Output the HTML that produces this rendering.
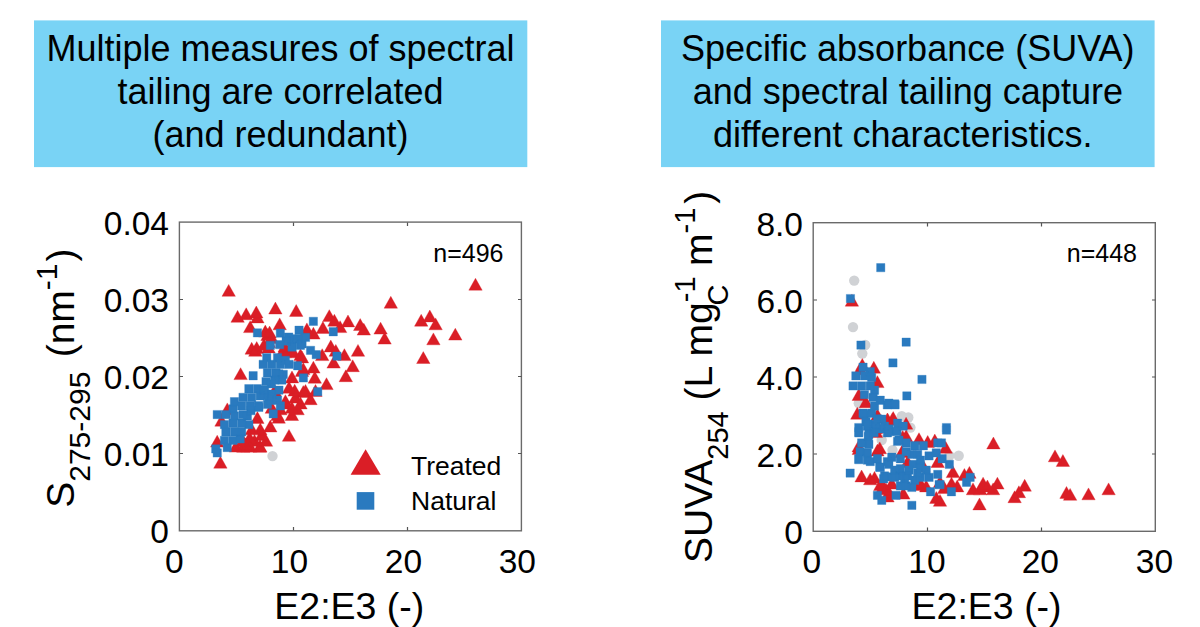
<!DOCTYPE html>
<html><head><meta charset="utf-8"><style>
html,body{margin:0;padding:0;background:#fff;width:1200px;height:627px;overflow:hidden}
svg{display:block}
text{font-family:"Liberation Sans",sans-serif;fill:#000}
</style></head><body>
<svg width="1200" height="627" viewBox="0 0 1200 627">
<rect x="0" y="0" width="1200" height="627" fill="#fff"/>
<!-- title boxes -->
<rect x="34" y="20.4" width="493.3" height="146.7" fill="#79D3F5"/>
<rect x="661" y="20.4" width="493.6" height="146.7" fill="#79D3F5"/>
<g font-size="36" text-anchor="middle">
<text x="280.5" y="60.5">Multiple measures of spectral</text>
<text x="280.5" y="103.5">tailing are correlated</text>
<text x="280.5" y="146.5">(and redundant)</text>
<text x="907.8" y="60.5">Specific absorbance (SUVA)</text>
<text x="907.8" y="103.5">and spectral tailing capture</text>
<text x="902.8" y="146.5">different characteristics.</text>
</g>

<!-- LEFT CHART -->
<g id="L">
<g fill="#D0D2D5"><circle cx="272.5" cy="456.1" r="5.2"/></g>
<path fill="#DA1E26" stroke="#DA1E26" stroke-width="0.35" stroke-linejoin="miter" d="M222.0 296.3h13.4l-6.7 -11.9zM230.9 322.3h13.4l-6.7 -11.9zM239.5 319.7h13.4l-6.7 -11.9zM249.6 317.9h13.4l-6.7 -11.9zM250.7 322.9h13.4l-6.7 -11.9zM268.7 314.0h13.4l-6.7 -11.9zM289.5 316.4h13.4l-6.7 -11.9zM243.5 332.6h13.4l-6.7 -11.9zM273.0 329.8h13.4l-6.7 -11.9zM258.6 337.0h13.4l-6.7 -11.9zM262.9 338.0h13.4l-6.7 -11.9zM300.2 334.8h13.4l-6.7 -11.9zM306.7 339.1h13.4l-6.7 -11.9zM245.0 354.2h13.4l-6.7 -11.9zM250.0 353.5h13.4l-6.7 -11.9zM257.2 350.6h13.4l-6.7 -11.9zM262.2 347.7h13.4l-6.7 -11.9zM278.0 357.8h13.4l-6.7 -11.9zM286.6 357.8h13.4l-6.7 -11.9zM293.8 360.6h13.4l-6.7 -11.9zM273.0 362.1h13.4l-6.7 -11.9zM265.1 343.4h13.4l-6.7 -11.9zM260.8 340.5h13.4l-6.7 -11.9zM278.0 352.0h13.4l-6.7 -11.9zM384.1 308.2h13.4l-6.7 -11.9zM322.6 321.6h13.4l-6.7 -11.9zM327.7 326.2h13.4l-6.7 -11.9zM341.3 326.9h13.4l-6.7 -11.9zM333.4 332.6h13.4l-6.7 -11.9zM353.5 330.5h13.4l-6.7 -11.9zM357.1 335.1h13.4l-6.7 -11.9zM373.9 334.1h13.4l-6.7 -11.9zM377.9 344.1h13.4l-6.7 -11.9zM414.5 326.2h13.4l-6.7 -11.9zM423.1 321.9h13.4l-6.7 -11.9zM428.9 329.8h13.4l-6.7 -11.9zM426.7 344.8h13.4l-6.7 -11.9zM324.1 352.0h13.4l-6.7 -11.9zM329.1 356.3h13.4l-6.7 -11.9zM351.3 356.3h13.4l-6.7 -11.9zM337.7 360.6h13.4l-6.7 -11.9zM315.5 360.6h13.4l-6.7 -11.9zM416.6 363.5h13.4l-6.7 -11.9zM316.2 333.4h13.4l-6.7 -11.9zM233.9 379.6h13.4l-6.7 -11.9zM296.6 374.6h13.4l-6.7 -11.9zM306.7 373.1h13.4l-6.7 -11.9zM308.1 383.2h13.4l-6.7 -11.9zM282.3 393.2h13.4l-6.7 -11.9zM288.0 396.1h13.4l-6.7 -11.9zM296.6 397.5h13.4l-6.7 -11.9zM303.8 404.7h13.4l-6.7 -11.9zM285.2 413.3h13.4l-6.7 -11.9zM290.9 414.8h13.4l-6.7 -11.9zM270.8 420.5h13.4l-6.7 -11.9zM250.7 423.4h13.4l-6.7 -11.9zM263.6 432.0h13.4l-6.7 -11.9zM255.0 440.6h13.4l-6.7 -11.9zM247.8 446.3h13.4l-6.7 -11.9zM240.7 452.1h13.4l-6.7 -11.9zM259.3 446.3h13.4l-6.7 -11.9zM282.3 441.3h13.4l-6.7 -11.9zM210.5 447.1h13.4l-6.7 -11.9zM214.8 426.2h13.4l-6.7 -11.9zM220.6 414.8h13.4l-6.7 -11.9zM265.1 413.3h13.4l-6.7 -11.9zM267.9 396.1h13.4l-6.7 -11.9zM279.4 409.0h13.4l-6.7 -11.9zM293.8 409.0h13.4l-6.7 -11.9zM285.2 420.5h13.4l-6.7 -11.9zM273.7 414.8h13.4l-6.7 -11.9zM245.0 434.8h13.4l-6.7 -11.9zM253.6 434.8h13.4l-6.7 -11.9zM243.5 452.1h13.4l-6.7 -11.9zM253.6 452.1h13.4l-6.7 -11.9zM236.4 446.3h13.4l-6.7 -11.9zM229.2 452.1h13.4l-6.7 -11.9zM326.9 368.1h13.4l-6.7 -11.9zM346.0 371.7h13.4l-6.7 -11.9zM339.1 381.7h13.4l-6.7 -11.9zM319.8 389.6h13.4l-6.7 -11.9zM213.7 468.2h13.4l-6.7 -11.9zM448.6 340.1h13.4l-6.7 -11.9zM468.8 290.2h13.4l-6.7 -11.9zM285.3 382.9h13.4l-6.7 -11.9zM295.3 376.4h13.4l-6.7 -11.9zM288.7 403.1h13.4l-6.7 -11.9zM278.7 406.6h13.4l-6.7 -11.9zM248.6 356.3h13.4l-6.7 -11.9zM261.9 352.9h13.4l-6.7 -11.9zM282.0 356.3h13.4l-6.7 -11.9zM272.0 423.2h13.4l-6.7 -11.9zM255.3 439.9h13.4l-6.7 -11.9zM238.5 449.9h13.4l-6.7 -11.9zM298.8 396.4h13.4l-6.7 -11.9zM308.8 396.4h13.4l-6.7 -11.9zM295.3 362.9h13.4l-6.7 -11.9zM242.9 443.3h13.4l-6.7 -11.9zM236.6 452.2h13.4l-6.7 -11.9zM253.1 452.2h13.4l-6.7 -11.9z"/>
<path fill="#2A7ABF" stroke="#2A7ABF" stroke-width="0.35" d="M253.3 328.7h8.3v8.3h-8.3zM276.2 329.0h8.3v8.3h-8.3zM294.9 326.1h8.3v8.3h-8.3zM309.2 317.2h8.3v8.3h-8.3zM266.2 341.2h8.3v8.3h-8.3zM275.5 340.5h8.3v8.3h-8.3zM287.7 334.7h8.3v8.3h-8.3zM301.4 333.3h8.3v8.3h-8.3zM282.0 336.9h8.3v8.3h-8.3zM296.3 341.2h8.3v8.3h-8.3zM306.4 346.2h8.3v8.3h-8.3zM262.6 353.4h8.3v8.3h-8.3zM273.4 353.4h8.3v8.3h-8.3zM312.1 350.5h8.3v8.3h-8.3zM293.5 334.7h8.3v8.3h-8.3zM329.1 327.6h8.3v8.3h-8.3zM332.8 352.0h8.3v8.3h-8.3zM259.0 360.2h8.3v8.3h-8.3zM267.6 360.2h8.3v8.3h-8.3zM276.2 360.2h8.3v8.3h-8.3zM284.8 360.2h8.3v8.3h-8.3zM293.5 361.6h8.3v8.3h-8.3zM249.0 371.6h8.3v8.3h-8.3zM263.3 368.8h8.3v8.3h-8.3zM271.9 368.8h8.3v8.3h-8.3zM279.1 370.2h8.3v8.3h-8.3zM261.9 377.4h8.3v8.3h-8.3zM270.5 375.9h8.3v8.3h-8.3zM277.7 375.9h8.3v8.3h-8.3zM244.7 384.6h8.3v8.3h-8.3zM253.3 384.6h8.3v8.3h-8.3zM260.4 386.0h8.3v8.3h-8.3zM274.8 386.0h8.3v8.3h-8.3zM230.3 397.5h8.3v8.3h-8.3zM238.9 393.2h8.3v8.3h-8.3zM247.5 393.2h8.3v8.3h-8.3zM256.1 391.7h8.3v8.3h-8.3zM264.7 393.2h8.3v8.3h-8.3zM273.4 396.0h8.3v8.3h-8.3zM276.2 401.8h8.3v8.3h-8.3zM228.9 404.7h8.3v8.3h-8.3zM237.5 401.8h8.3v8.3h-8.3zM246.1 401.8h8.3v8.3h-8.3zM254.7 403.2h8.3v8.3h-8.3zM263.3 400.3h8.3v8.3h-8.3zM213.1 410.4h8.3v8.3h-8.3zM221.7 410.4h8.3v8.3h-8.3zM230.3 411.8h8.3v8.3h-8.3zM238.9 410.4h8.3v8.3h-8.3zM243.2 411.8h8.3v8.3h-8.3zM269.1 409.7h8.3v8.3h-8.3zM220.3 420.4h8.3v8.3h-8.3zM228.9 419.0h8.3v8.3h-8.3zM237.5 419.0h8.3v8.3h-8.3zM244.7 420.4h8.3v8.3h-8.3zM221.7 427.6h8.3v8.3h-8.3zM230.3 427.6h8.3v8.3h-8.3zM237.5 427.6h8.3v8.3h-8.3zM220.3 436.2h8.3v8.3h-8.3zM228.9 436.2h8.3v8.3h-8.3zM236.0 434.8h8.3v8.3h-8.3zM223.1 443.4h8.3v8.3h-8.3zM211.6 444.8h8.3v8.3h-8.3zM299.2 373.8h8.3v8.3h-8.3zM313.6 387.4h8.3v8.3h-8.3zM213.1 448.8h8.3v8.3h-8.3zM254.5 401.4h8.3v8.3h-8.3zM259.6 391.2h8.3v8.3h-8.3zM267.2 396.2h8.3v8.3h-8.3zM246.8 406.5h8.3v8.3h-8.3zM267.2 379.7h8.3v8.3h-8.3zM281.2 356.2h8.3v8.3h-8.3zM287.9 342.9h8.3v8.3h-8.3zM274.6 369.7h8.3v8.3h-8.3zM267.9 389.9h8.3v8.3h-8.3zM284.6 332.9h8.3v8.3h-8.3zM297.9 339.6h8.3v8.3h-8.3z"/>
<rect x="179.4" y="222.1" width="342" height="308.7" fill="none" stroke="#6a6a6a" stroke-width="1.4"/>
<g stroke="#555" stroke-width="1.2">
<path d="M179.5 299.5h3.5M179.5 376.5h3.5M179.5 453.5h3.5M521.5 299.5h-3.5M521.5 376.5h-3.5M521.5 453.5h-3.5M293.5 530.5v-3.5M407.5 530.5v-3.5M293.5 222.5v3.5M407.5 222.5v3.5"/>
</g>
<g font-size="33.5" text-anchor="end">
<text x="169" y="234.5">0.04</text>
<text x="169" y="311.5">0.03</text>
<text x="169" y="388.5">0.02</text>
<text x="169" y="465.5">0.01</text>
<text x="169" y="542.5">0</text>
</g>
<g font-size="33.5" text-anchor="middle">
<text x="174.3" y="573">0</text>
<text x="289.5" y="573">10</text>
<text x="403.5" y="573">20</text>
<text x="517.3" y="573">30</text>
</g>
<text x="349.3" y="618.5" font-size="37.5" text-anchor="middle">E2:E3 (-)</text>
<text x="503.5" y="262" font-size="25" text-anchor="end">n=496</text>
<text x="411" y="474.7" font-size="26.5">Treated</text>
<text x="411" y="509.7" font-size="26.5">Natural</text>
<polygon points="350.6,474.7 380.7,474.7 365.6,449.2" fill="#DA1E26"/>
<rect x="356.7" y="492.1" width="17.6" height="17.6" fill="#2A7ABF"/>
<g transform="translate(74,507.8) rotate(-90)">
<text x="0" y="0" font-size="39">S<tspan font-size="30" dy="16">275-295</tspan><tspan dy="-16" dx="3.5"> (nm</tspan><tspan font-size="30" dy="-17">-1</tspan><tspan dy="17" dx="2">)</tspan></text>
</g>
</g>

<!-- RIGHT CHART -->
<g id="R">
<g fill="#D0D2D5"><circle cx="854.2" cy="280.6" r="5.2"/><circle cx="853.0" cy="327.1" r="5.2"/><circle cx="865.2" cy="345.0" r="5.2"/><circle cx="862.3" cy="353.6" r="5.2"/><circle cx="858.8" cy="403.2" r="5.2"/><circle cx="901.8" cy="416.1" r="5.2"/><circle cx="908.3" cy="417.5" r="5.2"/><circle cx="910.4" cy="427.6" r="5.2"/><circle cx="881.7" cy="440.0" r="5.2"/><circle cx="892.5" cy="450.1" r="5.2"/><circle cx="958.7" cy="455.8" r="5.2"/><circle cx="949.3" cy="455.8" r="5.2"/></g>
<path fill="#DA1E26" stroke="#DA1E26" stroke-width="0.35" stroke-linejoin="miter" d="M845.2 306.2h13.4l-6.7 -11.9zM855.6 370.4h13.4l-6.7 -11.9zM867.1 373.2h13.4l-6.7 -11.9zM870.7 387.6h13.4l-6.7 -11.9zM852.1 400.5h13.4l-6.7 -11.9zM859.2 407.7h13.4l-6.7 -11.9zM850.6 419.2h13.4l-6.7 -11.9zM870.7 420.6h13.4l-6.7 -11.9zM880.8 424.9h13.4l-6.7 -11.9zM886.5 423.5h13.4l-6.7 -11.9zM899.4 429.2h13.4l-6.7 -11.9zM853.5 374.7h13.4l-6.7 -11.9zM852.1 454.6h13.4l-6.7 -11.9zM854.9 481.9h13.4l-6.7 -11.9zM863.5 484.8h13.4l-6.7 -11.9zM870.7 456.0h13.4l-6.7 -11.9zM876.5 491.9h13.4l-6.7 -11.9zM882.2 497.7h13.4l-6.7 -11.9zM895.1 457.5h13.4l-6.7 -11.9zM899.4 441.7h13.4l-6.7 -11.9zM912.3 444.6h13.4l-6.7 -11.9zM921.0 447.4h13.4l-6.7 -11.9zM928.1 446.0h13.4l-6.7 -11.9zM900.9 467.5h13.4l-6.7 -11.9zM916.6 471.8h13.4l-6.7 -11.9zM913.8 489.1h13.4l-6.7 -11.9zM896.6 499.1h13.4l-6.7 -11.9zM929.6 503.4h13.4l-6.7 -11.9zM931.0 467.5h13.4l-6.7 -11.9zM869.3 437.4h13.4l-6.7 -11.9zM873.6 490.5h13.4l-6.7 -11.9zM879.3 494.8h13.4l-6.7 -11.9zM880.8 502.0h13.4l-6.7 -11.9zM885.1 489.1h13.4l-6.7 -11.9zM867.8 483.3h13.4l-6.7 -11.9zM913.8 490.5h13.4l-6.7 -11.9zM919.5 491.9h13.4l-6.7 -11.9zM910.9 487.6h13.4l-6.7 -11.9zM986.7 448.9h13.4l-6.7 -11.9zM939.0 453.2h13.4l-6.7 -11.9zM946.2 477.6h13.4l-6.7 -11.9zM957.7 480.4h13.4l-6.7 -11.9zM962.7 478.3h13.4l-6.7 -11.9zM937.6 493.4h13.4l-6.7 -11.9zM944.8 489.1h13.4l-6.7 -11.9zM950.5 491.9h13.4l-6.7 -11.9zM966.3 494.8h13.4l-6.7 -11.9zM973.5 494.8h13.4l-6.7 -11.9zM976.4 489.1h13.4l-6.7 -11.9zM980.7 491.9h13.4l-6.7 -11.9zM986.4 494.8h13.4l-6.7 -11.9zM990.7 489.1h13.4l-6.7 -11.9zM972.8 509.9h13.4l-6.7 -11.9zM1007.9 502.7h13.4l-6.7 -11.9zM1012.2 497.7h13.4l-6.7 -11.9zM1018.0 491.2h13.4l-6.7 -11.9zM933.3 506.3h13.4l-6.7 -11.9zM933.3 487.6h13.4l-6.7 -11.9zM1048.3 461.8h13.4l-6.7 -11.9zM1056.2 466.4h13.4l-6.7 -11.9zM1059.8 498.4h13.4l-6.7 -11.9zM1063.4 500.3h13.4l-6.7 -11.9zM1081.8 499.8h13.4l-6.7 -11.9zM1101.9 494.8h13.4l-6.7 -11.9zM880.7 425.1h13.4l-6.7 -11.9zM885.5 425.1h13.4l-6.7 -11.9zM869.2 433.8h13.4l-6.7 -11.9zM896.0 442.3h13.4l-6.7 -11.9zM873.1 453.8h13.4l-6.7 -11.9zM852.0 451.9h13.4l-6.7 -11.9z"/>
<path fill="#2A7ABF" stroke="#2A7ABF" stroke-width="0.35" d="M876.6 263.5h8.3v8.3h-8.3zM846.3 294.4h8.3v8.3h-8.3zM856.8 340.9h8.3v8.3h-8.3zM902.0 338.0h8.3v8.3h-8.3zM888.8 358.8h8.3v8.3h-8.3zM917.8 375.3h8.3v8.3h-8.3zM902.7 391.8h8.3v8.3h-8.3zM858.9 363.1h8.3v8.3h-8.3zM866.1 367.4h8.3v8.3h-8.3zM851.7 371.7h8.3v8.3h-8.3zM860.3 371.7h8.3v8.3h-8.3zM867.5 373.2h8.3v8.3h-8.3zM848.9 381.8h8.3v8.3h-8.3zM857.5 381.8h8.3v8.3h-8.3zM866.1 381.8h8.3v8.3h-8.3zM870.4 386.1h8.3v8.3h-8.3zM860.3 390.4h8.3v8.3h-8.3zM869.0 393.3h8.3v8.3h-8.3zM876.1 396.1h8.3v8.3h-8.3zM884.7 399.0h8.3v8.3h-8.3zM890.5 399.7h8.3v8.3h-8.3zM870.4 401.9h8.3v8.3h-8.3zM858.9 409.1h8.3v8.3h-8.3zM867.5 409.1h8.3v8.3h-8.3zM873.3 414.8h8.3v8.3h-8.3zM861.8 417.7h8.3v8.3h-8.3zM880.4 422.0h8.3v8.3h-8.3zM893.4 419.1h8.3v8.3h-8.3zM899.1 422.0h8.3v8.3h-8.3zM854.6 423.4h8.3v8.3h-8.3zM863.2 422.0h8.3v8.3h-8.3zM871.8 420.5h8.3v8.3h-8.3zM884.7 424.8h8.3v8.3h-8.3zM854.6 428.7h8.3v8.3h-8.3zM864.7 430.2h8.3v8.3h-8.3zM883.3 428.7h8.3v8.3h-8.3zM893.4 437.3h8.3v8.3h-8.3zM902.0 438.8h8.3v8.3h-8.3zM910.6 441.6h8.3v8.3h-8.3zM919.2 441.6h8.3v8.3h-8.3zM933.6 438.8h8.3v8.3h-8.3zM857.5 438.8h8.3v8.3h-8.3zM864.7 440.2h8.3v8.3h-8.3zM856.0 447.4h8.3v8.3h-8.3zM863.2 448.8h8.3v8.3h-8.3zM854.6 454.6h8.3v8.3h-8.3zM863.2 456.0h8.3v8.3h-8.3zM873.3 454.6h8.3v8.3h-8.3zM887.6 453.1h8.3v8.3h-8.3zM896.2 454.6h8.3v8.3h-8.3zM907.7 450.3h8.3v8.3h-8.3zM916.3 456.0h8.3v8.3h-8.3zM924.9 451.7h8.3v8.3h-8.3zM932.1 448.8h8.3v8.3h-8.3zM876.1 463.2h8.3v8.3h-8.3zM884.7 460.3h8.3v8.3h-8.3zM896.2 464.6h8.3v8.3h-8.3zM904.8 466.0h8.3v8.3h-8.3zM913.5 468.9h8.3v8.3h-8.3zM924.9 473.2h8.3v8.3h-8.3zM933.6 470.3h8.3v8.3h-8.3zM880.4 471.8h8.3v8.3h-8.3zM890.5 473.2h8.3v8.3h-8.3zM900.5 474.7h8.3v8.3h-8.3zM907.7 483.3h8.3v8.3h-8.3zM896.2 481.8h8.3v8.3h-8.3zM926.4 487.6h8.3v8.3h-8.3zM935.0 480.4h8.3v8.3h-8.3zM846.0 468.9h8.3v8.3h-8.3zM873.3 491.2h8.3v8.3h-8.3zM877.6 496.2h8.3v8.3h-8.3zM891.9 491.2h8.3v8.3h-8.3zM907.7 501.2h8.3v8.3h-8.3zM902.0 447.4h8.3v8.3h-8.3zM913.5 450.3h8.3v8.3h-8.3zM909.2 460.3h8.3v8.3h-8.3zM916.3 463.2h8.3v8.3h-8.3zM922.1 466.0h8.3v8.3h-8.3zM890.5 466.0h8.3v8.3h-8.3zM896.2 471.8h8.3v8.3h-8.3zM903.4 471.8h8.3v8.3h-8.3zM916.3 473.2h8.3v8.3h-8.3zM910.6 476.1h8.3v8.3h-8.3zM902.0 481.8h8.3v8.3h-8.3zM942.3 423.4h8.3v8.3h-8.3zM942.3 425.9h8.3v8.3h-8.3zM937.3 438.8h8.3v8.3h-8.3zM938.0 454.6h8.3v8.3h-8.3zM945.2 460.3h8.3v8.3h-8.3zM966.0 473.2h8.3v8.3h-8.3zM962.4 478.2h8.3v8.3h-8.3zM947.3 487.6h8.3v8.3h-8.3zM935.9 480.4h8.3v8.3h-8.3zM854.6 427.5h8.3v8.3h-8.3zM864.1 432.2h8.3v8.3h-8.3zM869.9 428.4h8.3v8.3h-8.3zM892.9 427.5h8.3v8.3h-8.3zM894.8 436.1h8.3v8.3h-8.3zM885.1 427.5h8.3v8.3h-8.3zM875.6 424.6h8.3v8.3h-8.3zM883.2 400.7h8.3v8.3h-8.3zM890.9 400.7h8.3v8.3h-8.3zM860.2 410.2h8.3v8.3h-8.3zM864.1 419.9h8.3v8.3h-8.3zM877.6 415.0h8.3v8.3h-8.3zM854.6 455.5h8.3v8.3h-8.3zM866.1 457.4h8.3v8.3h-8.3zM875.6 463.1h8.3v8.3h-8.3zM883.2 472.7h8.3v8.3h-8.3zM879.5 474.6h8.3v8.3h-8.3zM883.2 457.4h8.3v8.3h-8.3z"/>
<rect x="813.2" y="222.7" width="342.1" height="308.6" fill="none" stroke="#6a6a6a" stroke-width="1.4"/>
<g stroke="#555" stroke-width="1.2">
<path d="M813.5 300h3.5M813.5 377h3.5M813.5 454h3.5M1155.5 300h-3.5M1155.5 377h-3.5M1155.5 454h-3.5M927.5 531v-3.5M1041.5 531v-3.5M927.5 223v3.5M1041.5 223v3.5"/>
</g>
<g font-size="33.5" text-anchor="end">
<text x="803" y="236">8.0</text>
<text x="803" y="313">6.0</text>
<text x="803" y="390">4.0</text>
<text x="803" y="467">2.0</text>
<text x="803" y="544">0</text>
</g>
<g font-size="33.5" text-anchor="middle">
<text x="811.8" y="573">0</text>
<text x="927" y="573">10</text>
<text x="1040.3" y="573">20</text>
<text x="1154.5" y="573">30</text>
</g>
<text x="986.6" y="618.5" font-size="37.5" text-anchor="middle">E2:E3 (-)</text>
<text x="1137" y="262" font-size="25" text-anchor="end">n=448</text>
<g transform="translate(712,563) rotate(-90)">
<text x="0" y="0" font-size="39">SUVA<tspan font-size="29" dy="16">254</tspan><tspan dy="-16"> (L mg</tspan><tspan font-size="29" dy="-17">-1</tspan><tspan font-size="29" dy="33" dx="-29">C</tspan><tspan dy="-16" dx="7.7"> m</tspan><tspan font-size="29" dy="-17">-1</tspan><tspan dy="17" dx="4">)</tspan></text>
</g>
</g>
</svg>
</body></html>
